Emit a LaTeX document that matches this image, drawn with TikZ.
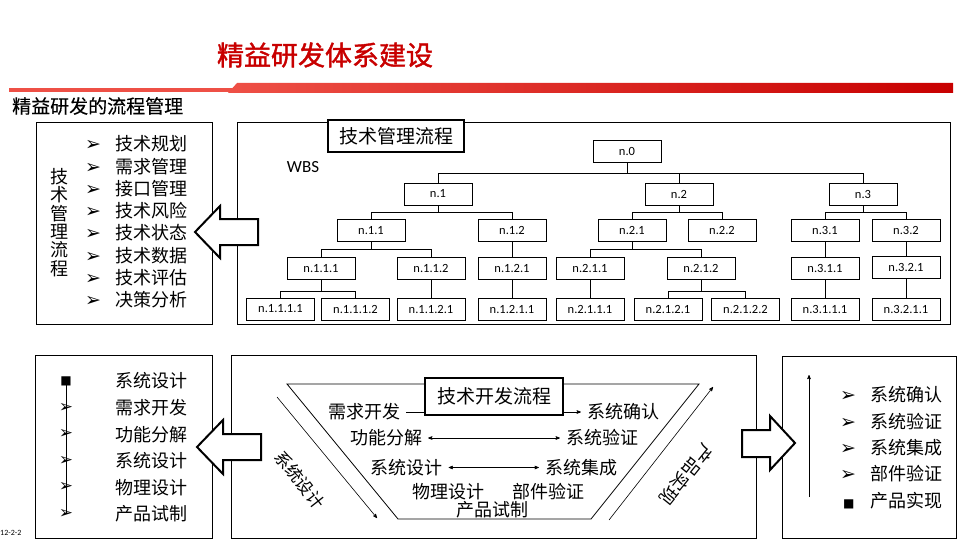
\documentclass[tikz,border=0pt]{standalone}
\usepackage{fontspec}
\setmainfont{Carlito}
\newfontfamily\cjk{Noto Sans CJK SC}
\newfontfamily\cjkbold{Noto Sans CJK SC}[FakeBold=1.5]
\newfontfamily\cjkmid{Noto Sans CJK SC}[FakeBold=0.4]
\newfontfamily\symfont{DejaVu Sans}
\usetikzlibrary{shapes,arrows}
\definecolor{titlered}{RGB}{200,0,0}
\definecolor{bandlight}{RGB}{238,80,70}
\definecolor{banddark}{RGB}{200,0,0}
\newcommand\bul{{\symfont\fontsize{19}{19}\selectfont ➢}}
\newcommand\blk{{\symfont\fontsize{12}{12}\selectfont ■}}

\begin{document}
\begin{tikzpicture}
  [x=1pt, y=-1pt,
  panel/.style ={rectangle, draw, line width=0.8pt, inner sep=0},
  wbs/.style ={rectangle, draw, line width=0.6pt, fill=white, minimum width=68, minimum height=22, inner sep=0, font=\fontsize{12.5}{14}\selectfont},
  caption/.style ={rectangle, draw, line width=1.6pt, fill=white, inner sep=0, font=\cjk\fontsize{19}{22}\selectfont},
  item/.style ={inner sep=0, align=left, font=\cjk\fontsize{18}{22.3}\selectfont},
  bullet/.style ={inner sep=0, font=\symfont\fontsize{17}{17}\selectfont},
  vtext/.style ={inner sep=6, font=\cjk\fontsize{18}{20}\selectfont},
  hollow/.style ={draw, line width=2pt, fill=white, line join=miter},
  link/.style ={draw, line width=0.6pt},
  line/.style ={draw, line width=0.6pt, -stealth'}]
  \useasboundingbox (0,0) rectangle (960,540);

  % header
  \node [font=\cjkbold\fontsize{27}{30}\selectfont, text=titlered, inner sep=0] (title) at (325,55) {精益研发体系建设};
  \fill [bandlight] (9,88.5) rectangle (236,92);
  \shade [left color=bandlight, right color=banddark] (228,93) -- (237,83) -- (953,83) -- (953,93) -- cycle;
  \node [anchor=west, inner sep=0, font=\cjkmid\fontsize{19}{22}\selectfont] (subtitle) at (12,106) {精益研发的流程管理};
  \node [anchor=west, inner sep=0, font=\fontsize{8}{9}\selectfont] (pageno) at (0,533) {12-2-2};

  % panels
  \node [panel, minimum width=176, minimum height=202] (tmbox) at (124,223) {};
  \node [panel, minimum width=713, minimum height=202] (wbsbox) at (593.5,223) {};
  \node [panel, minimum width=177, minimum height=183] (tdbox) at (123.5,446.5) {};
  \node [panel, minimum width=525, minimum height=183] (vbox) at (493.5,446.5) {};
  \node [panel, minimum width=174, minimum height=182] (cfbox) at (869,447) {};

  % hollow arrows between panels
  \path [hollow] (195,232) -- (220,206) -- (220,219) -- (258,219) -- (258,245) -- (220,245) -- (220,258) -- cycle;
  \path [hollow] (197,447) -- (223,420) -- (223,434) -- (261,434) -- (261,460) -- (223,460) -- (223,474) -- cycle;
  \path [hollow] (795,443) -- (770,416) -- (770,430) -- (742,430) -- (742,457) -- (770,457) -- (770,470) -- cycle;

  % technical management list
  \node [item, align=center, font=\cjk\fontsize{18}{18.3}\selectfont] (tmside) at (59,222.5) {技\\术\\管\\理\\流\\程};
  \node [item, anchor=west] (tmlist) at (85,222) {\makebox[30pt][l]{\bul}技术规划\\
    \makebox[30pt][l]{\bul}需求管理\\
    \makebox[30pt][l]{\bul}接口管理\\
    \makebox[30pt][l]{\bul}技术风险\\
    \makebox[30pt][l]{\bul}技术状态\\
    \makebox[30pt][l]{\bul}技术数据\\
    \makebox[30pt][l]{\bul}技术评估\\
    \makebox[30pt][l]{\bul}决策分析};

  % WBS tree
  \node [caption, minimum width=136, minimum height=32] (tmcap) at (396,136) {技术管理流程};
  \node [inner sep=0, font=\fontsize{17}{20}\selectfont] (wbslbl) at (303,167) {WBS};
  \node [wbs] (n0) at (627,151.5) {n.0};
  \node [wbs] (n1) at (438,194) {n.1};
  \node [wbs] (n2) at (679,194) {n.2};
  \node [wbs] (n3) at (863,194) {n.3};
  \node [wbs] (n11) at (371,230.5) {n.1.1};
  \node [wbs] (n12) at (512,230.5) {n.1.2};
  \node [wbs] (n21) at (632,230.5) {n.2.1};
  \node [wbs] (n22) at (722,230.5) {n.2.2};
  \node [wbs] (n31) at (825,230.5) {n.3.1};
  \node [wbs] (n32) at (906,230.5) {n.3.2};
  \node [wbs] (n111) at (321,268.5) {n.1.1.1};
  \node [wbs] (n112) at (431,268.5) {n.1.1.2};
  \node [wbs] (n121) at (512,268.5) {n.1.2.1};
  \node [wbs] (n211) at (590,268.5) {n.2.1.1};
  \node [wbs] (n212) at (701,268.5) {n.2.1.2};
  \node [wbs] (n311) at (825,268.5) {n.3.1.1};
  \node [wbs] (n321) at (906,267) {n.3.2.1};
  \node [wbs] (n1111) at (280.5,309) {n.1.1.1.1};
  \node [wbs] (n1112) at (355.5,309) {n.1.1.1.2};
  \node [wbs] (n1121) at (431,309) {n.1.1.2.1};
  \node [wbs] (n1211) at (512,309) {n.1.2.1.1};
  \node [wbs] (n2111) at (590,309) {n.2.1.1.1};
  \node [wbs] (n2121) at (668,309) {n.2.1.2.1};
  \node [wbs] (n2122) at (745.5,309) {n.2.1.2.2};
  \node [wbs] (n3111) at (825,309) {n.3.1.1.1};
  \node [wbs] (n3211) at (906,309) {n.3.2.1.1};

  \begin{scope}[every path/.style=link]
    \path (n0.south) -- ++(0,10.5) -| (n1.north);
    \path (n0.south) -- ++(0,10.5) -| (n2.north);
    \path (n0.south) -- ++(0,10.5) -| (n3.north);
    \path (n1.south) -- ++(0,7) -| (n11.north);
    \path (n1.south) -- ++(0,7) -| (n12.north);
    \path (n2.south) -- ++(0,7) -| (n21.north);
    \path (n2.south) -- ++(0,7) -| (n22.north);
    \path (n3.south) -- ++(0,7) -| (n31.north);
    \path (n3.south) -- ++(0,7) -| (n32.north);
    \path (n11.south) -- ++(0,7.5) -| (n111.north);
    \path (n11.south) -- ++(0,7.5) -| (n112.north);
    \path (n12) -- (n121);
    \path (n21.south) -- ++(0,7.5) -| (n211.north);
    \path (n21.south) -- ++(0,7.5) -| (n212.north);
    \path (n31) -- (n311);
    \path (n32) -- (n321);
    \path (n111.south) -- ++(0,11.5) -| (n1111.north);
    \path (n111.south) -- ++(0,11.5) -| (n1112.north);
    \path (n112) -- (n1121);
    \path (n121) -- (n1211);
    \path (n211) -- (n2111);
    \path (n212.south) -- ++(0,11.5) -| (n2121.north);
    \path (n212.south) -- ++(0,11.5) -| (n2122.north);
    \path (n311) -- (n3111);
    \path (n321) -- (n3211);
  \end{scope}

  % technical development list
  \node [bullet] (m1) at (66,381) {\blk};
  \node [bullet] (m2) at (66,407.5) {➢};
  \node [bullet] (m3) at (66,434) {➢};
  \node [bullet] (m4) at (66,460.5) {➢};
  \node [bullet] (m5) at (66,487) {➢};
  \node [bullet] (m6) at (66,514) {➢};
  \path [link] (m1.center) -- (m6.center);
  \node [item, anchor=west, font=\cjk\fontsize{18}{26.6}\selectfont] (tdlist) at (115,447.5) {系统设计\\需求开发\\功能分解\\系统设计\\物理设计\\产品试制};

  % V model
  \draw [line width=0.8pt] (287,384) -- (398,519) -- (591,519) -- (699,384) -- cycle;
  \node [vtext] (req) at (364,412) {需求开发};
  \node [vtext] (conf) at (623,412) {系统确认};
  \node [vtext] (func) at (386,438) {功能分解};
  \node [vtext] (ver) at (602,438) {系统验证};
  \node [vtext] (sysd) at (406.5,467.5) {系统设计};
  \node [vtext] (integ) at (581,467.5) {系统集成};
  \node [vtext] (phys) at (448,492) {物理设计};
  \node [vtext] (comp) at (548.5,492) {部件验证};
  \node [vtext] (proto) at (492.5,510) {产品试制};
  \path [line] (req) -- (conf);
  \path [line, stealth'-stealth'] (func) -- (ver);
  \path [line, stealth'-stealth'] (sysd) -- (integ);
  \node [caption, minimum width=138, minimum height=37] (tdcap) at (494,396.5) {技术开发流程};
  \coordinate (downfrom) at (277,397);
  \coordinate (downto) at (377,518);
  \path [line] (downfrom) -- (downto);
  \node [inner sep=0, rotate=-52, font=\cjk\fontsize{17}{20}\selectfont] (downlbl) at (300,480) {系统设计};
  \coordinate (upfrom) at (609,520);
  \coordinate (upto) at (713,387);
  \path [line] (upfrom) -- (upto);
  \node [inner sep=0, rotate=231, font=\cjk\fontsize{18}{20}\selectfont] (uplbl) at (686,475) {产品实现};

  % confirmation list
  \coordinate (risefrom) at (809,497);
  \coordinate (riseto) at (809,375);
  \path [line] (risefrom) -- (riseto);
  \node [item, anchor=west, font=\cjk\fontsize{18}{26.3}\selectfont] (cflist) at (840,447.7) {\makebox[30pt][l]{\bul}系统确认\\
    \makebox[30pt][l]{\bul}系统验证\\
    \makebox[30pt][l]{\bul}系统集成\\
    \makebox[30pt][l]{\bul}部件验证\\
    \makebox[30pt][l]{\hspace{3pt}\blk}产品实现};
\end{tikzpicture}
\end{document}
